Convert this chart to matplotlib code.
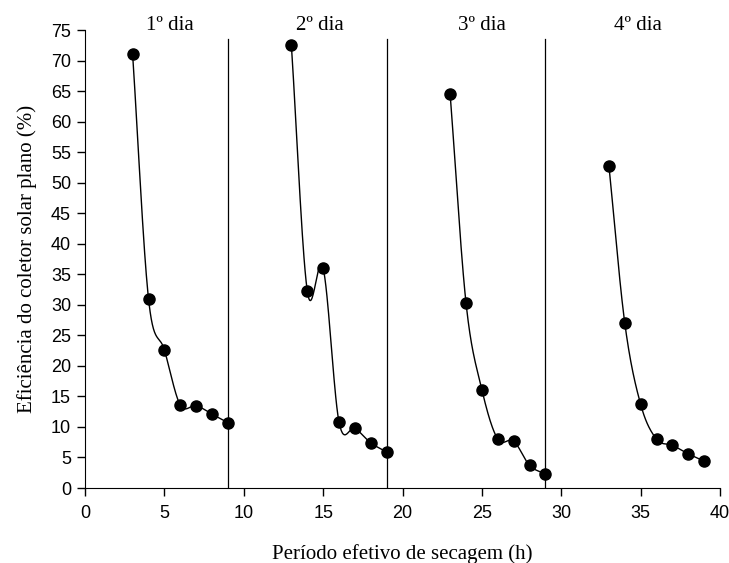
import numpy as np
import matplotlib.pyplot as plt

# Eficiência do coletor solar por dia de secagem
horas_dia1 = [3, 4, 5, 6, 7, 8, 9]
efic_dia1 = [71.0, 31.0, 22.6, 13.6, 13.5, 12.1, 10.7]
horas_dia2 = [13, 14, 15, 16, 17, 18, 19]
efic_dia2 = [72.5, 32.3, 36.0, 10.8, 9.8, 7.4, 5.9]
horas_dia3 = [23, 24, 25, 26, 27, 28, 29]
efic_dia3 = [64.5, 30.3, 16.1, 8.0, 7.7, 3.7, 2.3]
horas_dia4 = [33, 34, 35, 36, 37, 38, 39]
efic_dia4 = [52.8, 27.0, 13.7, 8.0, 7.0, 5.6, 4.4]

divisorias = [9, 19, 29]
rotulos_dia = ['1º dia', '2º dia', '3º dia', '4º dia']
pos_rotulos = [5.35, 14.8, 25.0, 34.8]


def suavizar(x, y, n=30):
    # curva tipo Catmull-Rom, parecida com a linha suavizada do Excel
    x = np.asarray(x, float)
    y = np.asarray(y, float)
    px = np.concatenate([[2 * x[0] - x[1]], x, [2 * x[-1] - x[-2]]])
    py = np.concatenate([[2 * y[0] - y[1]], y, [2 * y[-1] - y[-2]]])
    xs, ys = [], []
    t = np.linspace(0, 1, n)
    for i in range(1, len(px) - 2):
        p0, p1, p2, p3 = px[i - 1], px[i], px[i + 1], px[i + 2]
        q0, q1, q2, q3 = py[i - 1], py[i], py[i + 1], py[i + 2]
        c1x, c1y = p1 + (p2 - p0) / 6, q1 + (q2 - q0) / 6
        c2x, c2y = p2 - (p3 - p1) / 6, q2 - (q3 - q1) / 6
        bx = (1 - t) ** 3 * p1 + 3 * (1 - t) ** 2 * t * c1x + 3 * (1 - t) * t ** 2 * c2x + t ** 3 * p2
        by = (1 - t) ** 3 * q1 + 3 * (1 - t) ** 2 * t * c1y + 3 * (1 - t) * t ** 2 * c2y + t ** 3 * q2
        xs.extend(bx)
        ys.extend(by)
    return np.array(xs), np.array(ys)


fig = plt.figure(figsize=(7.29, 5.63), dpi=100)
ax = fig.add_axes([0.1166, 0.1332, 0.8711, 0.8135])

for hx, ey in [(horas_dia1, efic_dia1), (horas_dia2, efic_dia2),
               (horas_dia3, efic_dia3), (horas_dia4, efic_dia4)]:
    sx, sy = suavizar(hx, ey)
    ax.plot(sx, sy, color='black', lw=1.0)
    ax.plot(hx, ey, 'o', color='black', markersize=8)

for d in divisorias:
    ax.plot([d, d], [0, 73.6], color='black', lw=0.9)

for txt, xp in zip(rotulos_dia, pos_rotulos):
    ax.text(xp, 75.0, txt, ha='center', va='baseline', fontsize=15,
            family='Liberation Serif', clip_on=False)

ax.set_xlim(0, 40)
ax.set_ylim(0, 75)
ax.set_xticks(range(0, 41, 5))
ax.set_yticks(range(0, 76, 5))
ax.spines['top'].set_visible(False)
ax.spines['right'].set_visible(False)
ax.tick_params(direction='out', length=6, width=1, labelsize=13)
ax.tick_params(axis='x', pad=6)
ax.tick_params(axis='y', pad=4)
for lab in ax.get_xticklabels() + ax.get_yticklabels():
    lab.set_family(['Liberation Sans Narrow', 'Liberation Sans'])

ax.set_xlabel('Período efetivo de secagem (h)', family='Liberation Serif',
              fontsize=15, labelpad=16)
ax.set_ylabel('Eficiência do coletor solar plano (%)', family='Liberation Serif',
              fontsize=15, labelpad=10)

plt.savefig('out.png', dpi=100)
plt.close()
